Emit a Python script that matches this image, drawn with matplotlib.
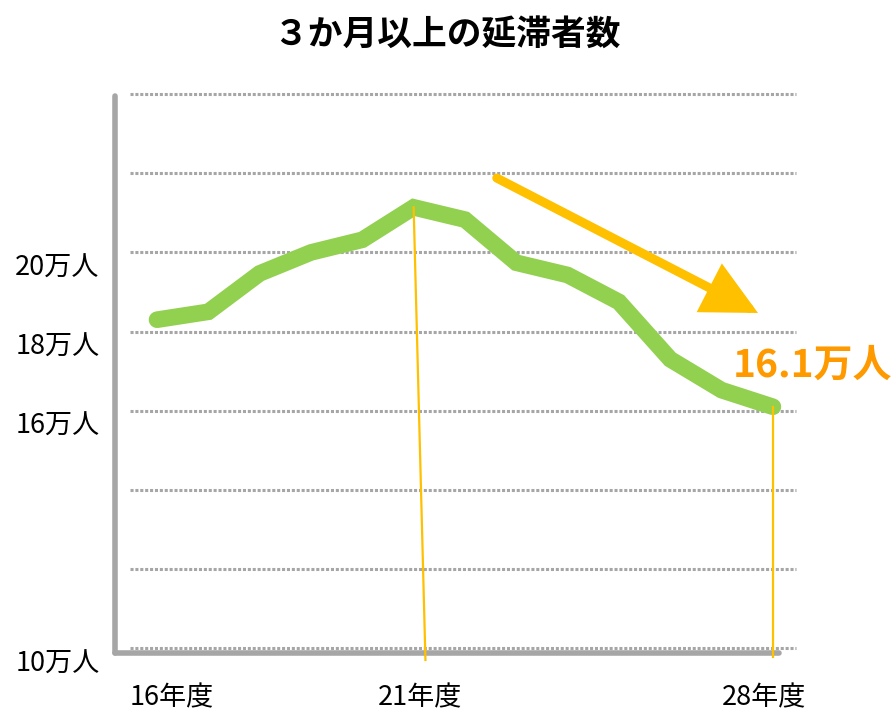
import matplotlib
matplotlib.use("Agg")
import matplotlib.pyplot as plt

plt.rcParams['font.family'] = ['Noto Sans CJK JP', 'DejaVu Sans']

# data (unit: 万人)
years = [16, 17, 18, 19, 20, 21, 22, 23, 24, 25, 26, 27, 28]
delinquents = [18.3, 18.5, 19.47, 20.0, 20.32, 21.14, 20.83, 19.74, 19.43,
               18.75, 17.3, 16.52, 16.1]
grid_values = [10, 12, 14, 16, 18, 20, 22, 24]
ytick_values = [20, 18, 16, 10]
ytick_labels = ['20万人', '18万人', '16万人', '10万人']
xtick_years = [16, 21, 28]
xtick_labels = ['16年度', '21年度', '28年度']
title = '３か月以上の延滞者数'
last_label = '16.1万人'

GREEN = '#92D050'
ORANGE = '#FFC000'
LABEL_ORANGE = '#FF9900'
GRAY = '#A6A6A6'

fig = plt.figure(figsize=(8.94, 7.13), dpi=100)
ax = fig.add_axes([0, 0, 1, 1])
# full-figure axes: 51.33 px per year, 39.57 px per 万人
ax.set_xlim(12.94, 30.36)
ax.set_ylim(8.36, 26.38)
ax.axis('off')

# dotted gridlines
ax.hlines(grid_values, 15.47, 28.45, colors=GRAY, linestyles=(0, (1, 0.6)), lw=2.2, zorder=1)

# axis lines
ax.plot([15.18, 15.18], [9.88, 23.95], color=GRAY, lw=4, solid_capstyle='round', zorder=2)
ax.plot([15.18, 28.12], [9.88, 9.88], color=GRAY, lw=4, solid_capstyle='round', zorder=2)

# main series
ax.plot(years, delinquents, color=GREEN, lw=12, solid_capstyle='round',
        solid_joinstyle='miter', zorder=3)

# orange drop lines at peak and latest year
peak = delinquents.index(max(delinquents))
ax.plot([years[peak], years[peak] + 0.23], [delinquents[peak], 9.7], color=ORANGE, lw=1.6, zorder=4)
ax.plot([years[-1], years[-1]], [delinquents[-1], 9.77], color=ORANGE, lw=1.6, zorder=4)

# trend arrow
ax.annotate('', xy=(27.71, 18.47), xytext=(22.62, 21.88),
            arrowprops=dict(arrowstyle='-|>,head_length=2.9,head_width=1.45',
                            lw=6.5, color=ORANGE, shrinkA=0, shrinkB=0,
                            capstyle='round', joinstyle='miter'),
            zorder=5)

# value label for the latest year
ax.text(28.78, 17.15, last_label, color=LABEL_ORANGE, fontsize=28, fontweight='bold',
        ha='center', va='center', zorder=6)

# y labels (drawn slightly below their gridlines, as in the original)
for v, lab in zip(ytick_values, ytick_labels):
    ax.text(14.88, v - 0.4, lab, fontsize=19.5, ha='right', va='center')

# x labels
x_nudge = {16: 0.29, 21: 0.12, 28: -0.17}
for yr, lab in zip(xtick_years, xtick_labels):
    ax.text(yr + x_nudge[yr], 8.75, lab, fontsize=19.5, ha='center', va='center')

# title
fig.text(0.5, 0.952, title, fontsize=25, fontweight='bold', ha='center', va='center')

fig.savefig('out.png', dpi=100)
